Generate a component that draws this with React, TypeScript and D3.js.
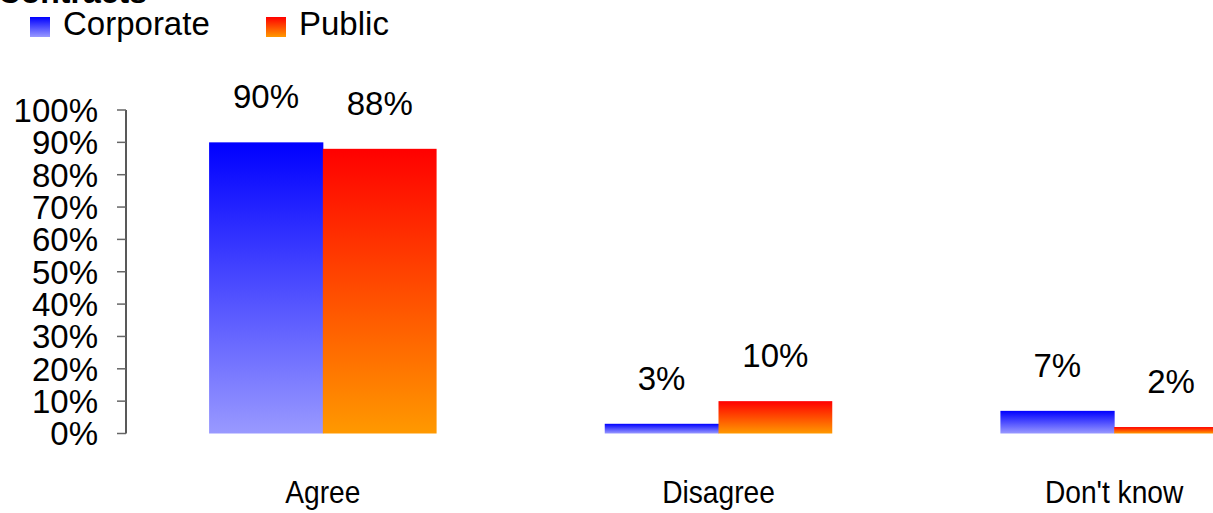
import React from "react";
import * as d3 from "d3";

const categories = ["Agree", "Disagree", "Don't know"];
const seriesNames = ["Corporate", "Public"];
const corporateValues = [0.9, 0.03, 0.07];
const publicValues = [0.88, 0.1, 0.02];
const yTicks = [0, 0.1, 0.2, 0.3, 0.4, 0.5, 0.6, 0.7, 0.8, 0.9, 1.0];
const titleText = "Contracts";

const W = 1213;
const H = 513;
const FONT = "'Liberation Sans', Arial, Helvetica, sans-serif";

const gradients = [
  { id: "gradCorp", top: "#0000ff", bottom: "#9999ff" },
  { id: "gradPub", top: "#ff0000", bottom: "#ff9900" },
];

export default function App() {
  const x0 = d3.scaleBand<string>().domain(categories).range([126, 1311]).paddingInner(0.425).paddingOuter(0.21);
  const x1 = d3.scaleBand<string>().domain(seriesNames).range([0, x0.bandwidth()]).padding(0);
  const y = d3.scaleLinear().domain([0, 1]).range([433.5, 110]);
  const fmt = d3.format(".0%");
  const values = [corporateValues, publicValues];

  return (
    <svg
      width={W}
      height={H}
      style={{ position: "absolute", left: 0, top: 0, background: "#fff" }}
      fontFamily={FONT}
    >
      <defs>
        {gradients.map((g) => (
          <linearGradient key={g.id} id={g.id} x1="0" y1="0" x2="0" y2="1">
            <stop offset="0%" stopColor={g.top} />
            <stop offset="100%" stopColor={g.bottom} />
          </linearGradient>
        ))}
      </defs>
      <rect x={0} y={0} width={W} height={H} fill="#fff" />

      {/* Title (cut off at top) */}
      <text x={147} y={3} textAnchor="end" fontSize={32} fontWeight="bold" fill="#000">
        {titleText}
      </text>

      {/* Legend */}
      {seriesNames.map((s, i) => {
        const lx = [30, 266][i];
        return (
          <g key={s}>
            <rect x={lx} y={17} width={20} height={20} fill={`url(#${gradients[i].id})`} />
            <text x={lx + 33} y={35} fontSize={33} fill="#000">
              {s}
            </text>
          </g>
        );
      })}

      {/* Y axis */}
      <line x1={126} x2={126} y1={y(1)} y2={y(0)} stroke="#222" strokeWidth={1.5} />
      {yTicks.map((t) => (
        <g key={t}>
          <line x1={117} x2={126} y1={y(t)} y2={y(t)} stroke="#666" strokeWidth={1.5} />
          <text x={98} y={y(t)} dy="0.36em" textAnchor="end" fontSize={33} fill="#000">
            {fmt(t)}
          </text>
        </g>
      ))}

      {/* Bars */}
      {categories.map((c, ci) => (
        <g key={c}>
          {seriesNames.map((s, si) => {
            const v = values[si][ci];
            const bx = (x0(c) as number) + (x1(s) as number);
            const bw = x1.bandwidth();
            return (
              <g key={s}>
                <rect
                  x={bx}
                  y={y(v)}
                  width={bw + (si === 0 ? 0.5 : 0)}
                  height={y(0) - y(v)}
                  fill={`url(#${gradients[si].id})`}
                />
                <text x={bx + bw / 2} y={y(v) - 34} textAnchor="middle" fontSize={33} fill="#000">
                  {fmt(v)}
                </text>
              </g>
            );
          })}
          <text
            transform={`translate(${(x0(c) as number) + x0.bandwidth() / 2},503) scale(0.88,1)`}
            textAnchor="middle"
            fontSize={32}
            fill="#000"
          >
            {c}
          </text>
        </g>
      ))}
    </svg>
  );
}
